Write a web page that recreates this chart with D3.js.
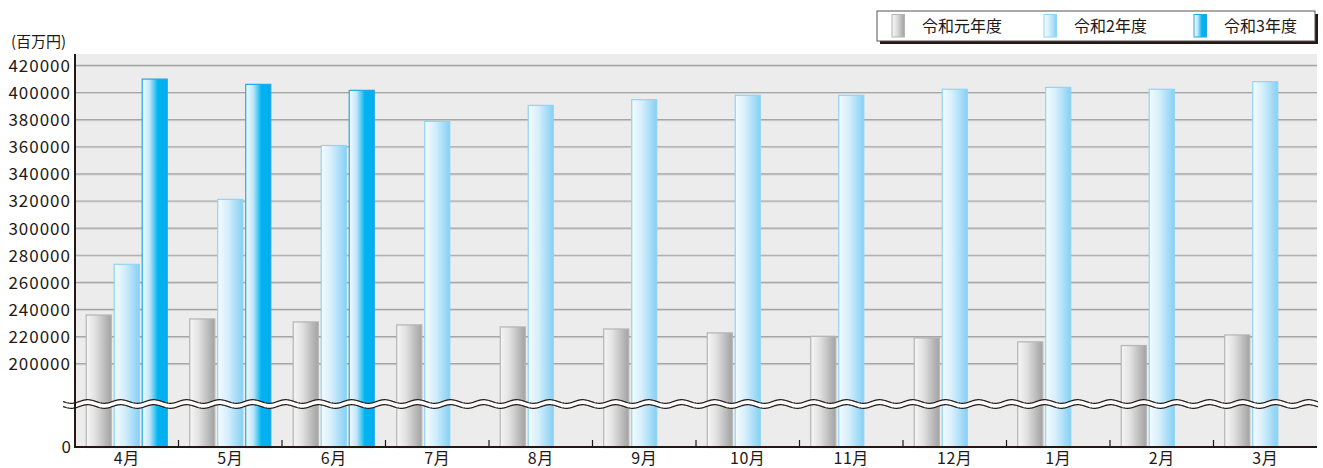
<!DOCTYPE html>
<html>
<head>
<meta charset="utf-8">
<style>
  body { margin: 0; background: #fff; }
  svg text { font-family: "Noto Sans CJK JP", "Noto Sans", sans-serif; fill: #231815; }
</style>
</head>
<body>
<svg id="chart" width="1323" height="468"></svg>
<script src="https://cdn.jsdelivr.net/npm/d3@7"></script>
<script>
// data
var months = ["4月", "5月", "6月", "7月", "8月", "9月", "10月", "11月", "12月", "1月", "2月", "3月"];
var series = ["令和元年度", "令和2年度", "令和3年度"];
var r1 = [236500, 233600, 231400, 229200, 227700, 226200, 223300, 220800, 219600, 216700, 214000, 221800];
var r2 = [273900, 321800, 361500, 379300, 391100, 395300, 398500, 398500, 403000, 404400, 403000, 408600];
var r3 = [410500, 406600, 402200, null, null, null, null, null, null, null, null, null];
var yTicks = [200000, 220000, 240000, 260000, 280000, 300000, 320000, 340000, 360000, 380000, 400000, 420000];

var svg = d3.select("#chart");
var plotL = 75, plotR = 1317, plotT = 54, base = 447;

var x = d3.scaleBand().domain(months).range([plotL, plotR]).padding(0);
var x1 = d3.scaleBand().domain(series).range([0, 82]).paddingInner(0.07);
var y = d3.scaleLinear().domain([200000, 420000]).range([364, 65.7]);

// gradients
var defs = svg.append("defs");
function grad(id, stops) {
  var g = defs.append("linearGradient").attr("id", id).attr("x1", 0).attr("x2", 1).attr("y1", 0).attr("y2", 0);
  stops.forEach(function(s) { g.append("stop").attr("offset", s[0]).attr("stop-color", s[1]); });
}
grad("g0", [[0, "#f6f6f6"], [0.35, "#e2e2e2"], [1, "#a2a2a2"]]);
grad("g1", [[0, "#f4fbff"], [0.4, "#d6effc"], [1, "#86d0f4"]]);
grad("g2", [[0, "#f2fbff"], [0.3, "#bfe6f9"], [0.62, "#00b4f0"], [1, "#00aeef"]]);
var fills = ["url(#g0)", "url(#g1)", "url(#g2)"];
var strokes = ["#b4b4b4", "#8fd5f4", "#22a9e2"];

// plot background
svg.append("rect").attr("x", plotL).attr("y", plotT).attr("width", plotR - plotL).attr("height", base - plotT)
  .attr("fill", "#ececec");

// grid
svg.append("g").selectAll("line").data(yTicks).join("line")
  .attr("x1", plotL).attr("x2", plotR)
  .attr("y1", function(d) { return y(d) + 0.5; }).attr("y2", function(d) { return y(d) + 0.5; })
  .attr("stroke", "#d2d2d2").attr("stroke-width", 1.5);
svg.append("g").selectAll("line").data(yTicks).join("line")
  .attr("x1", plotL).attr("x2", plotR)
  .attr("y1", function(d) { return y(d) - 0.3; }).attr("y2", function(d) { return y(d) - 0.3; })
  .attr("stroke", "#a6a6a6").attr("stroke-width", 1.2);

// bars
var rows = months.map(function(m, i) { return { m: m, v: [r1[i], r2[i], r3[i]] }; });
var grp = svg.append("g").selectAll("g").data(rows).join("g")
  .attr("transform", function(d) { return "translate(" + (x(d.m) + x.bandwidth() / 2 - 41) + ",0)"; });
grp.selectAll("rect").data(function(d) {
    return d.v.map(function(v, k) { return { s: series[k], k: k, v: v }; }).filter(function(e) { return e.v != null; });
  }).join("rect")
  .attr("x", function(d) { return x1(d.s) + 0.5; })
  .attr("width", x1.bandwidth() - 1)
  .attr("y", function(d) { return y(d.v) + 0.5; })
  .attr("height", function(d) { return base - y(d.v); })
  .attr("fill", function(d) { return fills[d.k]; })
  .attr("stroke", function(d) { return strokes[d.k]; })
  .attr("stroke-width", 1.2);

// axis break (wavy band)
var wx0 = 63, wx1 = 1318, period = 33, amp = 1.8;
function wave(c) {
  var pts = [];
  for (var px = wx0; px <= wx1; px += 1) pts.push([px, c + amp * Math.sin(2 * Math.PI * (px - wx0) / period)]);
  return pts;
}
var up = wave(401.5), dn = wave(406.5);
svg.append("path").attr("d", d3.line()(up.concat(dn.slice().reverse())) + "Z").attr("fill", "#fff");
svg.append("path").attr("d", d3.line()(up)).attr("fill", "none").attr("stroke", "#231815").attr("stroke-width", 1.2);
svg.append("path").attr("d", d3.line()(dn)).attr("fill", "none").attr("stroke", "#231815").attr("stroke-width", 1.2);

// axes
svg.append("line").attr("x1", plotL).attr("x2", plotL).attr("y1", plotT).attr("y2", base + 1)
  .attr("stroke", "#231815").attr("stroke-width", 2);
svg.append("line").attr("x1", plotL - 1).attr("x2", plotR).attr("y1", base).attr("y2", base)
  .attr("stroke", "#231815").attr("stroke-width", 2);
svg.append("g").selectAll("line").data(months.slice(1)).join("line")
  .attr("x1", function(d) { return x(d); }).attr("x2", function(d) { return x(d); })
  .attr("y1", base).attr("y2", base - 7)
  .attr("stroke", "#231815").attr("stroke-width", 1.2);

// y labels
svg.append("g").selectAll("text").data(yTicks).join("text")
  .attr("x", 71).attr("y", function(d) { return y(d); })
  .attr("dy", "0.36em").attr("text-anchor", "end")
  .style("font-size", "17px").style("letter-spacing", "1px")
  .text(function(d) { return d; });
svg.append("text").attr("x", 71).attr("y", base).attr("dy", "0.36em").attr("text-anchor", "end")
  .style("font-size", "17px").text("0");
svg.append("text").attr("x", 11).attr("y", 47).style("font-size", "15px").text("(百万円)");

// x labels
svg.append("g").selectAll("text").data(months).join("text")
  .attr("x", function(d) { return x(d) + x.bandwidth() / 2; })
  .attr("y", 464).attr("text-anchor", "middle")
  .style("font-size", "16px").style("letter-spacing", "0.5px")
  .text(function(d) { return d; });

// legend
var lg = svg.append("g");
lg.append("rect").attr("x", 880).attr("y", 14).attr("width", 438).attr("height", 30).attr("fill", "#231815");
lg.append("rect").attr("x", 877).attr("y", 11).attr("width", 438).attr("height", 30)
  .attr("fill", "#fff").attr("stroke", "#555").attr("stroke-width", 1);
var lx = [892, 1044, 1194];
series.forEach(function(s, k) {
  lg.append("rect").attr("x", lx[k]).attr("y", 14.5).attr("width", 12.5).attr("height", 22.5)
    .attr("fill", fills[k]).attr("stroke", strokes[k]).attr("stroke-width", 1);
  lg.append("text").attr("x", lx[k] + 30).attr("y", 26).attr("dy", "0.35em")
    .style("font-size", "16px").text(s);
});
</script>
</body>
</html>
